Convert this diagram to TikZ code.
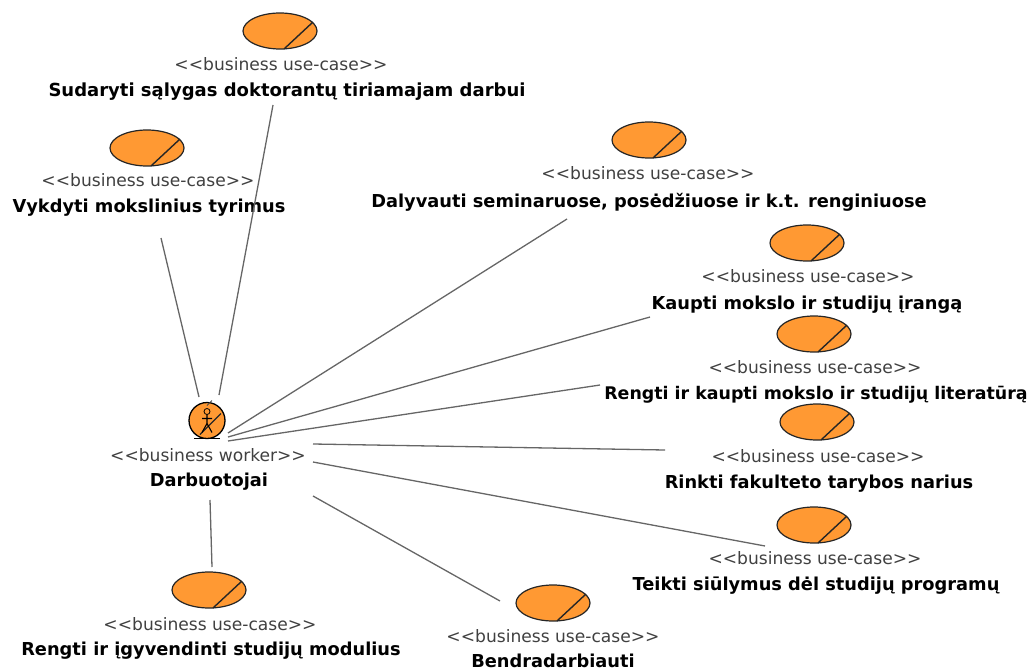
\documentclass[tikz,border=0pt]{standalone}
\usepackage{fontspec}
\setmainfont{DejaVu Sans}
\newfontfamily\stfont{DejaVu Sans}
\usetikzlibrary{shapes.geometric,calc}
\definecolor{ucorange}{HTML}{FF9933}
\tikzset{
 uc/.style={ellipse,draw=black!85,line width=1.2pt,fill=ucorange,minimum width=74pt,minimum height=36pt,inner sep=0pt},
 st/.style={font=\stfont\fontsize{17.1}{20}\selectfont,inner sep=0pt,text=black!75},
 nm/.style={font=\fontsize{17.8}{20}\selectfont\bfseries,inner sep=0pt,text=black},
 conn/.style={draw=black!60,line width=1.3pt},
 slash/.style={draw=black!85,line width=1.4pt}
}
\newcommand{\ucase}[8]{%
 \node[uc] (#1e) at (#2,#3) {};
 \draw[slash] ($(#1e.center)+(4,18)$) -- ($(#1e.center)+(33,-9)$);
 \node[st] (#1s) at (#2+#4,#5) {<{}<business use-case>{}>};
 \node[nm] (#1n) at (#2+#6,#7) {#8};
}
\begin{document}
\begin{tikzpicture}[x=1pt,y=-1pt]
\useasboundingbox (0,0) rectangle (1032,671);
\ucase{a}{280}{31}{1}{64}{7}{92}{{\fontsize{18}{20}\selectfont Sudaryti sąlygas doktorantų tiriamajam darbui}}
\ucase{b}{147}{148}{1}{180}{2}{208}{Vykdyti mokslinius tyrimus}
\ucase{c}{649}{140}{-1}{173}{0}{202}{Dalyvauti seminaruose, posėdžiuose ir k.t. renginiuose}
\ucase{d}{807}{243}{1}{276}{0}{305}{Kaupti mokslo ir studijų įrangą}
\ucase{e}{814}{334}{1}{367}{2}{395}{{\fontsize{17.4}{20}\selectfont Rengti ir kaupti mokslo ir studijų literatūrą}}
\ucase{f}{817}{422}{1}{456}{2}{484}{Rinkti fakulteto tarybos narius}
\ucase{g}{814}{525}{1}{558}{2}{586}{Teikti siūlymus dėl studijų programų}
\ucase{h}{553}{603}{0}{636}{0}{660.5}{Bendradarbiauti}
\ucase{i}{209}{590}{1}{624}{2}{651}{Rengti ir įgyvendinti studijų modulius}
% actor
\node[circle,draw=black,line width=1.3pt,fill=ucorange,minimum size=36pt,inner sep=0pt] (actor) at (207,420.5) {};
\draw[black,line width=1.2pt] ($(actor.center)+(-13,18)$) -- ($(actor.center)+(13,18)$);
\draw[slash] ($(actor.center)+(-7,14)$) -- ($(actor.center)+(14,-7)$);
\draw[black,line width=.8pt] ($(actor.center)+(0,-9)$) circle (3);
\draw[black,line width=1.1pt] ($(actor.center)+(0,-6)$) -- ($(actor.center)+(0,3)$) -- ($(actor.center)+(-5,12)$)
  ($(actor.center)+(0,3)$) -- ($(actor.center)+(5,12)$)
  ($(actor.center)+(-5,-2)$) -- ($(actor.center)+(5,-2)$);
\draw[black!70,line width=1pt] ($(actor.center)+(0,-15)$) -- ($(actor.center)+(5,-20)$);
\node[st] (actors) at (208,455) {<{}<business worker>{}>};
\node[nm] (actorn) at (209,482) {Darbuotojai};
% connectors
\draw[conn] ($(actor.center)+(12,-25.5)$) -- ($(an.center)+(-14,13)$);
\draw[conn] ($(actor.center)+(-8,-23.5)$) -- ($(bn.center)+(12,30)$);
\draw[conn] ($(actor.center)+(21,12.5)$) -- ($(cn.center)+(-82,17)$);
\draw[conn] ($(actor.center)+(21,16.5)$) -- ($(dn.center)+(-157,12)$);
\draw[conn] ($(actor.center)+(21,20.5)$) -- ($(en.center)+(-216,-10)$);
\draw[conn] ($(actors.center)+(105,-11)$) -- ($(fs.center)+(-153,-6)$);
\draw[conn] ($(actors.center)+(105,7)$) -- ($(gs.center)+(-50,-12)$);
\draw[conn] ($(actorn.center)+(104,14)$) -- ($(he.center)+(-53,-2)$);
\draw[conn] ($(actorn.center)+(1,18)$) -- ($(ie.center)+(3,-23)$);
\end{tikzpicture}
\end{document}
